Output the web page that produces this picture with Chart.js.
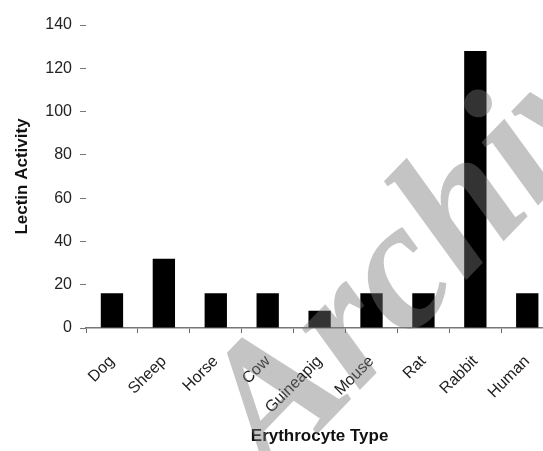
<!DOCTYPE html>
<html>
<head>
<meta charset="utf-8">
<script src="https://cdn.jsdelivr.net/npm/chart.js@4/dist/chart.umd.min.js"></script>
<style>
  html, body { margin: 0; padding: 0; background: #fff; overflow: hidden; }
  #wrap { width: 560px; height: 451px; }
</style>
</head>
<body>
<div id="wrap"><canvas id="chart" width="560" height="451"></canvas></div>
<script>
const categories = ['Dog', 'Sheep', 'Horse', 'Cow', 'Guineapig', 'Mouse', 'Rat', 'Rabbit', 'Human'];
const activity = [16, 32, 16, 16, 8, 16, 16, 128, 16];
const yTicks = [0, 20, 40, 60, 80, 100, 120, 140];

const xTitle = 'Erythrocyte Type';
const yTitle = 'Lectin Activity';
const watermark = 'Archives';

const fontFamily = '"Liberation Sans", Arial, sans-serif';

// grey see-through watermark laid over the whole picture
const watermarkPlugin = {
    id: 'watermark',
    afterDraw(chart) {
        const ctx = chart.ctx;
        ctx.save();
        ctx.translate(272, 481);
        ctx.rotate(-46 * Math.PI / 180);
        ctx.font = 'bold italic 184px "Liberation Serif", serif';
        ctx.fillStyle = 'rgba(118,118,118,0.43)';
        ctx.textBaseline = 'alphabetic';
        ctx.fillText(watermark, 0, 0);
        ctx.restore();
    }
};

new Chart(document.getElementById('chart'), {
    type: 'bar',
    data: {
        labels: categories,
        datasets: [{
            label: yTitle,
            data: activity,
            backgroundColor: '#000',
            borderWidth: 0,
            barPercentage: 0.43,
            categoryPercentage: 1.0
        }]
    },
    options: {
        responsive: false,
        animation: false,
        layout: { padding: { left: 12, right: 3, top: 25, bottom: 4 } },
        plugins: {
            legend: { display: false },
            tooltip: { enabled: false }
        },
        scales: {
            x: {
                grid: {
                    display: true,
                    drawOnChartArea: false,
                    offset: true,
                    tickLength: 5,
                    color: '#666'
                },
                border: { display: true, color: '#777', width: 1.5 },
                ticks: {
                    color: '#222',
                    font: { family: fontFamily, size: 16 },
                    minRotation: 45,
                    maxRotation: 45,
                    autoSkip: false,
                    padding: 19
                },
                title: {
                    display: true,
                    text: xTitle,
                    color: '#111',
                    font: { family: fontFamily, size: 17, weight: 'bold' },
                    padding: { top: 0, bottom: 0 }
                },
                afterFit(scale) { scale.height = 119; }
            },
            y: {
                min: 0,
                max: 140,
                afterBuildTicks(scale) {
                    scale.ticks = yTicks.map(v => ({ value: v }));
                },
                grid: {
                    display: true,
                    drawOnChartArea: false,
                    tickLength: 6,
                    color: '#777'
                },
                border: { display: false },
                ticks: {
                    color: '#222',
                    font: { family: fontFamily, size: 16 },
                    padding: 8
                },
                title: {
                    display: true,
                    text: yTitle,
                    color: '#111',
                    font: { family: fontFamily, size: 17, weight: 'bold' },
                    padding: { top: 0, bottom: 4 }
                },
                afterFit(scale) { scale.width = 74; }
            }
        }
    },
    plugins: [watermarkPlugin]
});
</script>
</body>
</html>
